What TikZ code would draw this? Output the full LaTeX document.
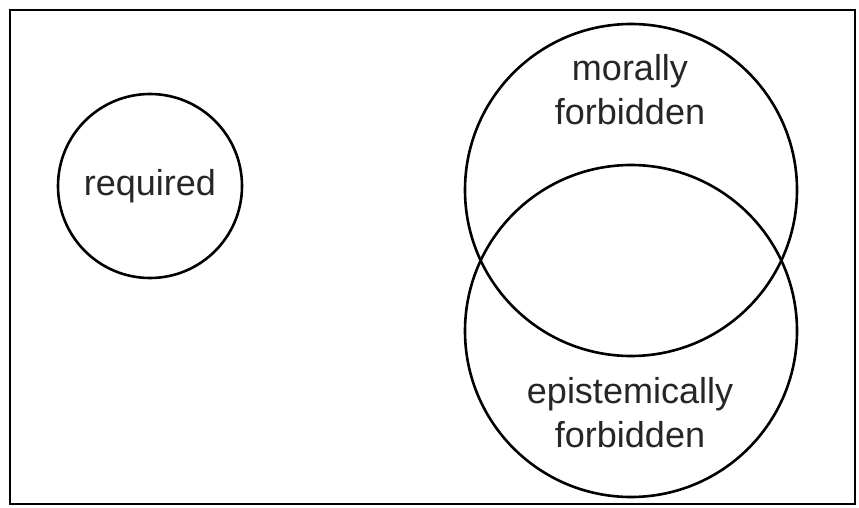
\documentclass[tikz,border=0pt]{standalone}
\usepackage{fontspec}
\setmainfont{Liberation Sans}

\begin{document}
\begin{tikzpicture}[
		x=1pt,
		y=-1pt,
		line width=2.6pt,
		every node/.style={
			font=\fontsize{36}{44}\selectfont,
			align=center,
			text=black!85,
		},
		set/.style={
			shape=circle,
			draw,
			inner sep=0pt,
		},
	]
		\useasboundingbox (0,0) rectangle (859,508);
		\draw (10,10) rectangle (855,504);
		\node[set, minimum size=184pt] (required) at (150,186) {required};
		\node[set, minimum size=332pt] (moral) at (631,190) {};
		\node[set, minimum size=332pt] (epist) at (631,331) {};
		\node (moraltext) at (630,90) {morally\\forbidden};
		\node (episttext) at (630,413) {epistemically\\forbidden};
	\end{tikzpicture}
\end{document}
